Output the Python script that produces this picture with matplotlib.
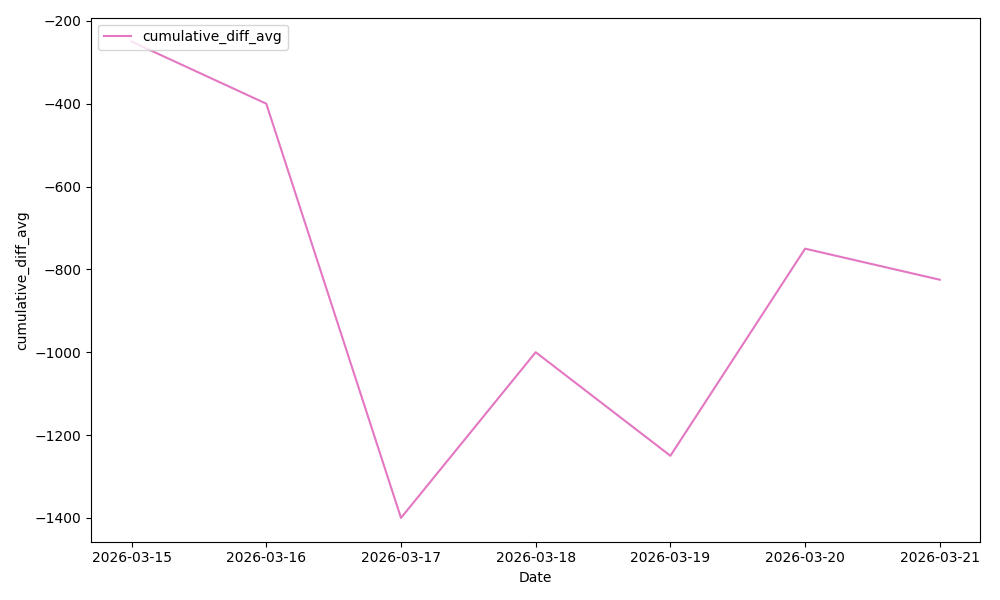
import matplotlib
matplotlib.use("Agg")
import matplotlib.pyplot as plt
import pandas as pd

# daily values
dates = ["2026-03-15", "2026-03-16", "2026-03-17", "2026-03-18",
         "2026-03-19", "2026-03-20", "2026-03-21"]
cumulative_diff_avg = [-250, -400, -1400, -1000, -1250, -750, -825]

x = pd.to_datetime(dates)

fig, ax = plt.subplots(figsize=(10, 6), dpi=100)
ax.plot(x, cumulative_diff_avg, color="#e377c2", label="cumulative_diff_avg")

ax.set_xticks(x)
ax.set_xticklabels(dates)
ax.set_xlabel("Date")
ax.set_ylabel("cumulative_diff_avg")
ax.legend(loc="upper left")

fig.tight_layout()
fig.savefig("out.png")
